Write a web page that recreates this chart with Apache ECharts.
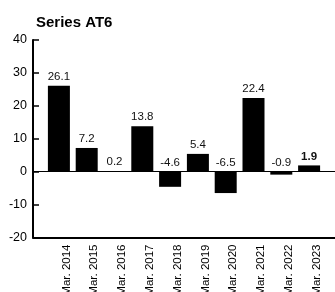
<!DOCTYPE html>
<html>
<head>
<meta charset="utf-8">
<script src="https://cdn.jsdelivr.net/npm/echarts@6/dist/echarts.min.js"></script>
<style>
  html, body { margin: 0; padding: 0; background: #fff; }
  #chart { width: 335px; height: 292px; }
</style>
</head>
<body>
<div id="chart"></div>
<script>
// data
const categories = ['Mar. 2014', 'Mar. 2015', 'Mar. 2016', 'Mar. 2017', 'Mar. 2018',
                    'Mar. 2019', 'Mar. 2020', 'Mar. 2021', 'Mar. 2022', 'Mar. 2023'];
const values = [26.1, 7.2, 0.2, 13.8, -4.6, 5.4, -6.5, 22.4, -0.9, 1.9];
const yTicks = { min: -20, max: 40, step: 10 };

const FONT = '"Liberation Sans", Arial, sans-serif';

const chart = echarts.init(document.getElementById('chart'));

// last bar gets a bold label
const barData = values.map((v, i) => ({
  value: v,
  label: i === values.length - 1 ? { fontWeight: 'bold' } : {}
}));

const option = {
  animation: false,
  title: {
    text: 'Series AT6',
    left: 31,
    top: 10,
    textStyle: { fontFamily: FONT, fontSize: 15, fontWeight: 'bold', color: '#000' }
  },
  grid: [
    // bars
    { left: 45, right: 12, top: 40, bottom: 54.5, outerBoundsMode: 'none' },
    // visible axes span the full width
    { left: 33, right: 0, top: 40, bottom: 54.5, outerBoundsMode: 'none' }
  ],
  xAxis: [
    {
      gridIndex: 0,
      type: 'category',
      data: categories,
      axisLine: { show: false },
      axisTick: { show: false },
      axisLabel: {
        rotate: 90,
        margin: 7,
        verticalAlign: 'top',
        lineHeight: 15,
        fontFamily: FONT,
        fontSize: 11.5,
        color: '#000'
      }
    },
    {
      gridIndex: 1,
      type: 'value',
      min: 0, max: 1,
      position: 'bottom',
      axisLine: { show: true, onZero: false, lineStyle: { color: '#000', width: 2 } },
      axisTick: { show: false },
      axisLabel: { show: false },
      splitLine: { show: false }
    },
    {
      // zero line
      gridIndex: 1,
      type: 'value',
      min: 0, max: 1,
      position: 'top',
      axisLine: { show: true, onZero: true, lineStyle: { color: '#000', width: 1 } },
      axisTick: { show: false },
      axisLabel: { show: false },
      splitLine: { show: false }
    }
  ],
  yAxis: [
    {
      gridIndex: 0,
      type: 'value',
      min: yTicks.min, max: yTicks.max, interval: yTicks.step,
      show: false
    },
    {
      gridIndex: 1,
      type: 'value',
      min: yTicks.min, max: yTicks.max, interval: yTicks.step,
      axisLine: { show: true, onZero: false, lineStyle: { color: '#000', width: 2 } },
      axisTick: { show: true, inside: true, length: 6, lineStyle: { color: '#000', width: 1.5 } },
      axisLabel: { margin: 6, fontFamily: FONT, fontSize: 12.5, color: '#000' },
      splitLine: { show: false }
    }
  ],
  series: [
    {
      type: 'bar',
      xAxisIndex: 0,
      yAxisIndex: 0,
      data: barData,
      barWidth: 22,
      itemStyle: { color: '#000' },
      label: {
        show: true,
        position: 'top',
        distance: 3,
        fontFamily: FONT,
        fontSize: 11.5,
        color: '#111',
        formatter: p => p.value.toFixed(1)
      }
    }
  ]
};

chart.setOption(option);
</script>
</body>
</html>
